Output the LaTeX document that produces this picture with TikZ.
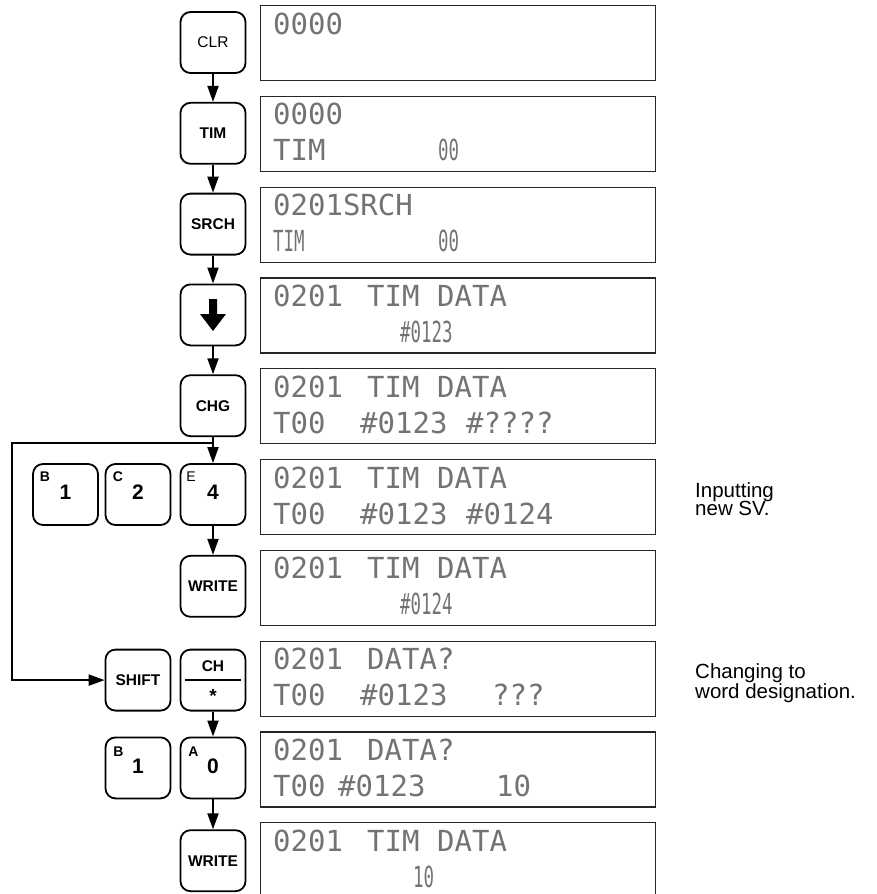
\documentclass[tikz,border=0pt]{standalone}
\usepackage{fontspec}
\setmainfont{Liberation Sans}
\newfontfamily\lcdfont{DejaVu Sans Mono}
\usetikzlibrary{arrows.meta}
\tikzset{
  key/.style={draw, line width=1.8pt, rounded corners=10pt, minimum width=65pt, minimum height=61pt, inner sep=0pt},
  disp/.style={draw=black!85, line width=1.2pt, minimum width=395pt, minimum height=75pt, inner sep=0pt, anchor=north west},
  lcd/.style={font=\lcdfont\fontsize{29}{29}\selectfont, text=black!55, inner sep=0pt, anchor=base west},
  narrow/.style={lcd, xscale=0.6},
  keylbl/.style={font=\bfseries\fontsize{15.5}{16}\selectfont, inner sep=0pt},
  keyreg/.style={font=\fontsize{15.5}{16}\selectfont, inner sep=0pt},
  digit/.style={font=\bfseries\fontsize{21}{22}\selectfont, inner sep=0pt},
  supb/.style={font=\bfseries\fontsize{14}{15}\selectfont, inner sep=0pt},
  supr/.style={font=\fontsize{14}{15}\selectfont, inner sep=0pt},
  conn/.style={line width=2pt, -{Triangle[length=16pt,width=11pt]}},
  note/.style={font=\fontsize{20.5}{18.7}\selectfont, align=left, anchor=north west, inner sep=0pt}
}
\begin{document}
\begin{tikzpicture}[x=1pt,y=-1pt]
\useasboundingbox (0,0) rectangle (876,894);
% displays
\node[disp] (d1) at (260,5) {};
\node[disp] (d2) at (260,95.8) {};
\node[disp] (d3) at (260,186.6) {};
\node[disp] (d4) at (260,277.4) {};
\node[disp] (d5) at (260,368.2) {};
\node[disp] (d6) at (260,459) {};
\node[disp] (d7) at (260,549.8) {};
\node[disp] (d8) at (260,640.6) {};
\node[disp] (d9) at (260,731.4) {};
\node[disp] (d10) at (260,822.2) {};
% display texts
\node[lcd] (t1a) at (273,34) {0000};
\node[lcd] (t2a) at (273,124.8) {0000};
\node[lcd] (t2b) at (273,160.8) {TIM};
\node[narrow] (t2c) at (438,160.8) {00};
\node[lcd] (t3a) at (273,215.6) {0201SRCH};
\node[narrow] (t3b) at (273,251.6) {TIM};
\node[narrow] (t3c) at (438,251.6) {00};
\node[lcd] (t4a) at (273,306.4) {0201};
\node[lcd] (t4b) at (367,306.4) {TIM};
\node[lcd] (t4c) at (437,306.4) {DATA};
\node[narrow] (t4d) at (400,342.4) {\#0123};
\node[lcd] (t5a) at (273,397.2) {0201};
\node[lcd] (t5b) at (367,397.2) {TIM};
\node[lcd] (t5c) at (437,397.2) {DATA};
\node[lcd] (t5d) at (273,433.2) {T00};
\node[lcd] (t5e) at (360,433.2) {\#0123};
\node[lcd] (t5f) at (466,433.2) {\#????};
\node[lcd] (t6a) at (273,488) {0201};
\node[lcd] (t6b) at (367,488) {TIM};
\node[lcd] (t6c) at (437,488) {DATA};
\node[lcd] (t6d) at (273,524) {T00};
\node[lcd] (t6e) at (360,524) {\#0123};
\node[lcd] (t6f) at (466,524) {\#0124};
\node[lcd] (t7a) at (273,578.8) {0201};
\node[lcd] (t7b) at (367,578.8) {TIM};
\node[lcd] (t7c) at (437,578.8) {DATA};
\node[narrow] (t7d) at (400,614.8) {\#0124};
\node[lcd] (t8a) at (273,669.6) {0201};
\node[lcd] (t8b) at (367,669.6) {DATA?};
\node[lcd] (t8d) at (273,705.6) {T00};
\node[lcd] (t8e) at (360,705.6) {\#0123};
\node[lcd] (t8f) at (492,705.6) {???};
\node[lcd] (t9a) at (273,760.4) {0201};
\node[lcd] (t9b) at (367,760.4) {DATA?};
\node[lcd] (t9d) at (273,796.4) {T00};
\node[lcd] (t9e) at (338,796.4) {\#0123};
\node[lcd] (t9f) at (496,796.4) {10};
\node[lcd] (t10a) at (273,851.2) {0201};
\node[lcd] (t10b) at (367,851.2) {TIM};
\node[lcd] (t10c) at (437,851.2) {DATA};
\node[narrow] (t10d) at (413,887.2) {10};
% keys
\node[key, keyreg] (clr) at (213,42.5) {CLR};
\node[key, keylbl] (tim) at (213,133.3) {TIM};
\node[key, keylbl] (srch) at (213,224.1) {SRCH};
\node[key] (down) at (213,314.9) {};
\fill (209,299) -- (217,299) -- (217,314) -- (226,314) -- (213,331) -- (200,314) -- (209,314) -- cycle;
\node[key, keylbl] (chg) at (213,405.7) {CHG};
% row 6
\node[key] (k1a) at (65.5,494.5) {};
\node[digit] (k1ad) at (65.5,492) {1};
\node[supb] (k1as) at (45,476.5) {B};
\node[key] (k2) at (138,494.5) {};
\node[digit] (k2d) at (138,492) {2};
\node[supb] (k2s) at (118,476.5) {C};
\node[key] (k4) at (213,494.5) {};
\node[digit] (k4d) at (213,492) {4};
\node[supr] (k4s) at (191,476.5) {E};
\node[key, keylbl] (wr1) at (213,586.3) {WRITE};
% row 8
\node[key, keylbl] (shift) at (138,680.1) {SHIFT};
\node[key] (ch) at (213,680.1) {};
\node[keylbl] (chl) at (213,666.6) {CH};
\draw[line width=1.6pt] (185,680.1) -- (241,680.1);
\node[font=\bfseries\fontsize{19}{19}\selectfont, anchor=base, inner sep=0pt] (chs) at (213,702) {*};
% row 9
\node[key] (k1b) at (138,767.9) {};
\node[digit] (k1bd) at (138,765.9) {1};
\node[supb] (k1bs) at (118.5,751.4) {B};
\node[key] (k0) at (213,767.9) {};
\node[digit] (k0d) at (213,765.9) {0};
\node[supb] (k0s) at (193.5,751.4) {A};
\node[key, keylbl] (wr2) at (213,860.7) {WRITE};
% connectors
\draw[conn] (clr) -- (tim);
\draw[conn] (tim) -- (srch);
\draw[conn] (srch) -- (down);
\draw[conn] (down) -- (chg);
\draw[conn] (chg) -- (k4);
\draw[conn] (k4) -- (wr1);
\coordinate (j) at (213,443);
\coordinate (jl) at (12,443);
\draw[conn] (j) -- (jl) |- (shift);
\draw[conn] (ch) -- (k0);
\draw[conn] (k0) -- (wr2);
% notes
\node[note] (n1) at (695,482) {Inputting\\new SV.};
\node[note] (n2) at (695,663) {Changing to\\word designation.};
\end{tikzpicture}
\end{document}
